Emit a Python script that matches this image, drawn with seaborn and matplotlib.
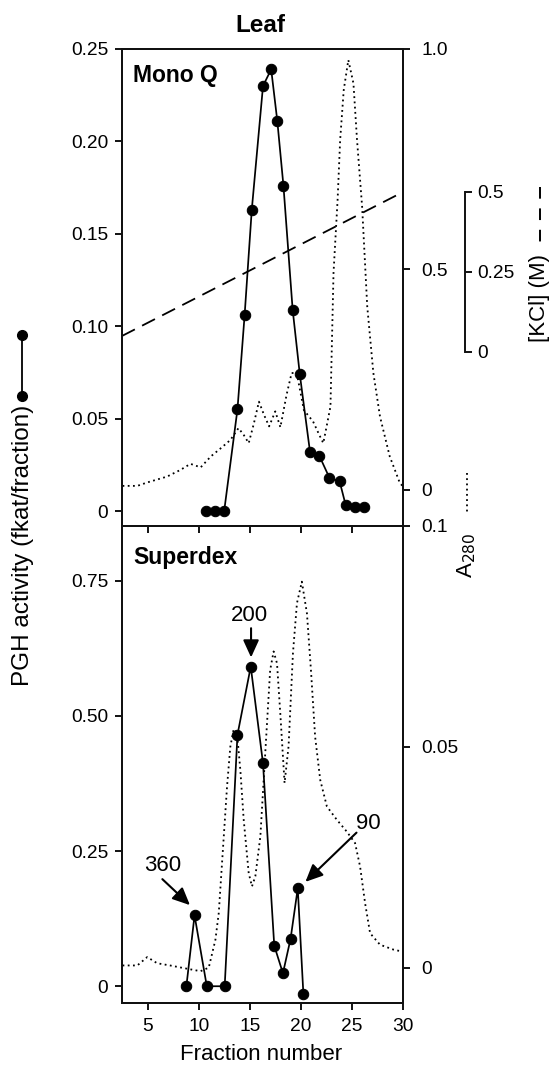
import numpy as np
import pandas as pd
import matplotlib
matplotlib.use("Agg")
import matplotlib.pyplot as plt
from matplotlib.lines import Line2D
import seaborn as sns

# ---------------- data ----------------
fraction_ticks = [5, 10, 15, 20, 25, 30]
fraction_ticklabels = ["5", "10", "15", "20", "25", "30"]

# Mono Q: PGH activity
monoq_frac = [10.7, 11.6, 12.5, 13.8, 14.5, 15.2, 16.3, 17.1, 17.7, 18.3,
              19.2, 19.9, 20.9, 21.8, 22.8, 23.8, 24.4, 25.3, 26.2]
monoq_act = [0.0, 0.0, 0.0, 0.055, 0.106, 0.163, 0.230, 0.239, 0.211, 0.176,
             0.109, 0.074, 0.032, 0.030, 0.018, 0.016, 0.003, 0.002, 0.002]

# Mono Q: A280
monoq_a280_frac = [2.55, 4.0, 5.0, 6.9, 8.2, 9.2, 9.7, 10.2, 11.2, 12.2, 13.1,
                   13.9, 14.4, 14.9, 15.4, 15.9, 16.4, 16.9, 17.5, 18.0, 18.6,
                   19.1, 19.6, 20.3, 21.2, 21.8, 22.2, 22.55, 22.9, 23.2, 23.6,
                   23.85, 24.2, 24.65, 25.15, 25.5, 26.0, 26.5, 27.1, 27.75,
                   28.7, 29.7, 30.0]
monoq_a280 = [0.009, 0.009, 0.017, 0.030, 0.045, 0.059, 0.055, 0.051, 0.076,
              0.095, 0.113, 0.140, 0.125, 0.106, 0.150, 0.200, 0.170, 0.144,
              0.178, 0.142, 0.215, 0.265, 0.265, 0.181, 0.155, 0.125, 0.106,
              0.147, 0.189, 0.492, 0.658, 0.794, 0.907, 0.975, 0.922, 0.794,
              0.642, 0.416, 0.265, 0.166, 0.076, 0.015, 0.008]

# Mono Q: KCl gradient
kcl_frac = [2.5, 30.0]
kcl_conc = [0.05, 0.5]
kcl_ticks = [0, 0.25, 0.5]
kcl_ticklabels = ["0", "0.25", "0.5"]

# Superdex: PGH activity
sup_frac = [8.8, 9.6, 10.8, 12.55, 13.8, 15.1, 16.3, 17.4, 18.25, 19.0, 19.7, 20.25]
sup_act = [0.0, 0.131, 0.0, 0.0, 0.465, 0.591, 0.412, 0.075, 0.024, 0.088, 0.181, -0.014]

# Superdex: A280
sup_a280_frac = [2.55, 4.0, 4.97, 5.94, 7.2, 8.55, 10.18, 10.99, 11.64, 11.97,
                 12.29, 12.78, 13.1, 13.43, 13.76, 14.08, 14.41, 14.9, 15.22,
                 15.55, 16.04, 16.52, 17.0, 17.34, 17.67, 17.99, 18.41, 18.8,
                 19.23, 19.62, 20.1, 20.6, 20.99, 21.4, 21.9, 22.55, 23.52,
                 24.5, 25.31, 25.8, 26.29, 26.78, 27.75, 29.05, 30.0]
sup_a280 = [0.0005, 0.0005, 0.0024, 0.0010, 0.0005, -0.0001, -0.0008, 0.0000,
            0.0063, 0.0124, 0.0237, 0.041, 0.050, 0.054, 0.053, 0.0448, 0.0335,
            0.0214, 0.0184, 0.0207, 0.0297, 0.0486, 0.0674, 0.0716, 0.0689,
            0.0576, 0.0418, 0.0501, 0.0712, 0.0825, 0.0874, 0.0802, 0.0674,
            0.0523, 0.0425, 0.0365, 0.0335, 0.0308, 0.0282, 0.0229, 0.0146,
            0.0078, 0.0052, 0.0041, 0.0036]

# Axis ticks
monoq_left_ticks = [0, 0.05, 0.10, 0.15, 0.20, 0.25]
monoq_left_labels = ["0", "0.05", "0.10", "0.15", "0.20", "0.25"]
monoq_right_ticks = [0, 0.5, 1.0]
monoq_right_labels = ["0", "0.5", "1.0"]
sup_left_ticks = [0, 0.25, 0.50, 0.75]
sup_left_labels = ["0", "0.25", "0.50", "0.75"]
sup_right_ticks = [0, 0.05, 0.1]
sup_right_labels = ["0", "0.05", "0.1"]

# Annotations (MW labels): text, text position, arrow start, arrow tip
ann_labels = ["360", "200", "90"]
ann_text_xy = [(6.5, 0.224), (14.96, 0.686), (26.6, 0.300)]
ann_start_xy = [(6.45, 0.198), (15.13, 0.662), (25.45, 0.284)]
ann_tip_xy = [(9.15, 0.150), (15.13, 0.608), (20.45, 0.193)]

# ---------------- styling ----------------
sns.set_theme(style="ticks")
plt.rcParams["font.family"] = ["Liberation Sans", "DejaVu Sans"]
plt.rcParams["axes.linewidth"] = 1.4
plt.rcParams["axes.edgecolor"] = "#111111"
plt.rcParams["text.color"] = "black"
plt.rcParams["axes.labelcolor"] = "black"
plt.rcParams["xtick.color"] = "#111111"
plt.rcParams["ytick.color"] = "#111111"
plt.rcParams["xtick.labelcolor"] = "black"
plt.rcParams["ytick.labelcolor"] = "black"

TICK_FS = 13.8
SPINE_LW = 1.4
EDGE = "#111111"

W_PX, H_PX = 556, 1066
fig = plt.figure(figsize=(W_PX / 100, H_PX / 100), dpi=100)
fig.patch.set_facecolor("white")

def fx(px):
    return px / W_PX

def fy(py):
    return 1 - py / H_PX

L = fx(122)
W = (403 - 122) / W_PX
H = (526 - 49) / H_PX
ax1 = fig.add_axes([L, fy(526), W, H])
ax2 = fig.add_axes([L, fy(1003), W, H])
ax2.set_facecolor("none")

line_kw = dict(color="black", linewidth=1.25)
dot_kw = dict(color="black", linewidth=1.3, linestyle=(0, (1, 1.9)))

# ---------- top panel (Mono Q) ----------
ax1r = ax1.twinx()
ax1k = ax1.twinx()

sns.lineplot(x=monoq_a280_frac, y=monoq_a280, ax=ax1r, sort=False,
             estimator=None, **dot_kw)
sns.lineplot(x=kcl_frac, y=kcl_conc, ax=ax1k, sort=False, estimator=None,
             color="black", linewidth=1.3, linestyle=(0, (8, 4.5)))
sns.lineplot(x=monoq_frac, y=monoq_act, ax=ax1, sort=False, estimator=None,
             marker="o", markersize=7.5, markeredgecolor="black",
             markerfacecolor="black", **line_kw)
ax1.set_zorder(3)
ax1.patch.set_visible(False)
ax1r.set_zorder(1)
ax1k.set_zorder(2)

ax1.set_xlim(2.5, 30)
ax1.set_ylim(-0.0081, 0.25)
ax1r.set_ylim(-0.082, 1.0)
ax1k.set_ylim(-0.544, 0.947)
ax1k.axis("off")

ax1.set_xticks(fraction_ticks)
ax1.tick_params(axis="x", direction="out", length=5, width=SPINE_LW,
                labelbottom=False, color=EDGE)
ax1.set_yticks(monoq_left_ticks)
ax1.set_yticklabels(monoq_left_labels)
ax1.tick_params(axis="y", direction="out", length=5, width=SPINE_LW,
                labelsize=TICK_FS, pad=5, color=EDGE)
ax1r.set_yticks(monoq_right_ticks)
ax1r.set_yticklabels(monoq_right_labels)
ax1r.tick_params(axis="y", direction="out", length=5, width=SPINE_LW,
                 labelsize=TICK_FS, pad=8, color=EDGE)
for a in (ax1, ax1r):
    a.set_xlabel("")
    a.set_ylabel("")
ax1.text(0.04, 0.945, "Mono Q", transform=ax1.transAxes, fontsize=16.5,
         fontweight="bold", va="center", ha="left")

# ---------- bottom panel (Superdex) ----------
ax2r = ax2.twinx()
sns.lineplot(x=sup_a280_frac, y=sup_a280, ax=ax2r, sort=False,
             estimator=None, **dot_kw)
sns.lineplot(x=sup_frac, y=sup_act, ax=ax2, sort=False, estimator=None,
             marker="o", markersize=7.5, markeredgecolor="black",
             markerfacecolor="black", **line_kw)
ax2.set_zorder(3)
ax2.patch.set_visible(False)
ax2r.set_zorder(1)

ax2.set_xlim(2.5, 30)
ax2.set_ylim(-0.031, 0.851)
ax2.set_xticks(fraction_ticks)
ax2.set_xticklabels(fraction_ticklabels)
ax2.tick_params(axis="x", direction="out", length=5, width=SPINE_LW,
                labelsize=TICK_FS, pad=6, color=EDGE)
ax2.set_yticks(sup_left_ticks)
ax2.set_yticklabels(sup_left_labels)
ax2.tick_params(axis="y", direction="out", length=5, width=SPINE_LW,
                labelsize=TICK_FS, pad=5, color=EDGE)
ax2r.set_yticks(sup_right_ticks)
ax2r.set_yticklabels(sup_right_labels)
ax2r.tick_params(axis="y", direction="out", length=5, width=SPINE_LW,
                 labelsize=TICK_FS, pad=8, color=EDGE)
ax2r.set_ylim(-0.008, 0.1)
for a in (ax2, ax2r):
    a.set_xlabel("")
    a.set_ylabel("")
ax2.text(0.04, 0.933, "Superdex", transform=ax2.transAxes, fontsize=16.5,
         fontweight="bold", va="center", ha="left")

for lab, txy, sxy, tip in zip(ann_labels, ann_text_xy, ann_start_xy, ann_tip_xy):
    ax2.text(txy[0], txy[1], lab, fontsize=16, ha="center", va="center")
    ax2.annotate("", xy=tip, xytext=sxy,
                 arrowprops=dict(arrowstyle="-|>,head_length=0.7,head_width=0.32",
                                 color="black", lw=1.5, mutation_scale=15,
                                 shrinkA=0, shrinkB=0))

for a in (ax1, ax1r, ax2, ax2r):
    for s in a.spines.values():
        s.set_linewidth(SPINE_LW)
        s.set_color(EDGE)

# ---------- KCl scale bracket ----------
axk = fig.add_axes([fx(465), fy(352), 0.0001, (352 - 192) / H_PX])
axk.set_facecolor("none")
axk.set_xticks([])
axk.set_ylim(0, 0.5)
for s in ("top", "bottom", "left"):
    axk.spines[s].set_visible(False)
axk.spines["right"].set_linewidth(SPINE_LW)
axk.spines["right"].set_color(EDGE)
axk.yaxis.tick_right()
axk.set_yticks(kcl_ticks)
axk.set_yticklabels(kcl_ticklabels)
axk.tick_params(axis="y", direction="out", length=5, width=SPINE_LW,
                labelsize=TICK_FS, pad=4, color=EDGE)

# ---------- figure texts and legend samples ----------
fig.text(fx(260), fy(26), "Leaf", fontsize=17.5, fontweight="bold",
         ha="center", va="center")
fig.text(fx(261), fy(1054), "Fraction number", fontsize=16, ha="center",
         va="center")
fig.text(fx(23), fy(545), "PGH activity (fkat/fraction)", fontsize=17.5,
         rotation=90, ha="center", va="center")
fig.add_artist(Line2D([fx(22), fx(22)], [fy(335), fy(396)], color="black",
                      lw=1.3, marker="o", markersize=7,
                      transform=fig.transFigure))

fig.text(fx(539), fy(298), "[KCl] (M)", fontsize=16, rotation=90,
         ha="center", va="center")
fig.add_artist(Line2D([fx(540), fx(540)], [fy(187), fy(242)], color="black",
                      lw=1.4, linestyle=(0, (6, 5)),
                      transform=fig.transFigure))

fig.text(fx(467), fy(555), "A$_{280}$", fontsize=16, rotation=90,
         ha="center", va="center")
fig.add_artist(Line2D([fx(467), fx(467)], [fy(473), fy(514)], color="black",
                      lw=1.3, linestyle=(0, (1, 1.9)),
                      transform=fig.transFigure))

fig.savefig("out.png", dpi=100)
